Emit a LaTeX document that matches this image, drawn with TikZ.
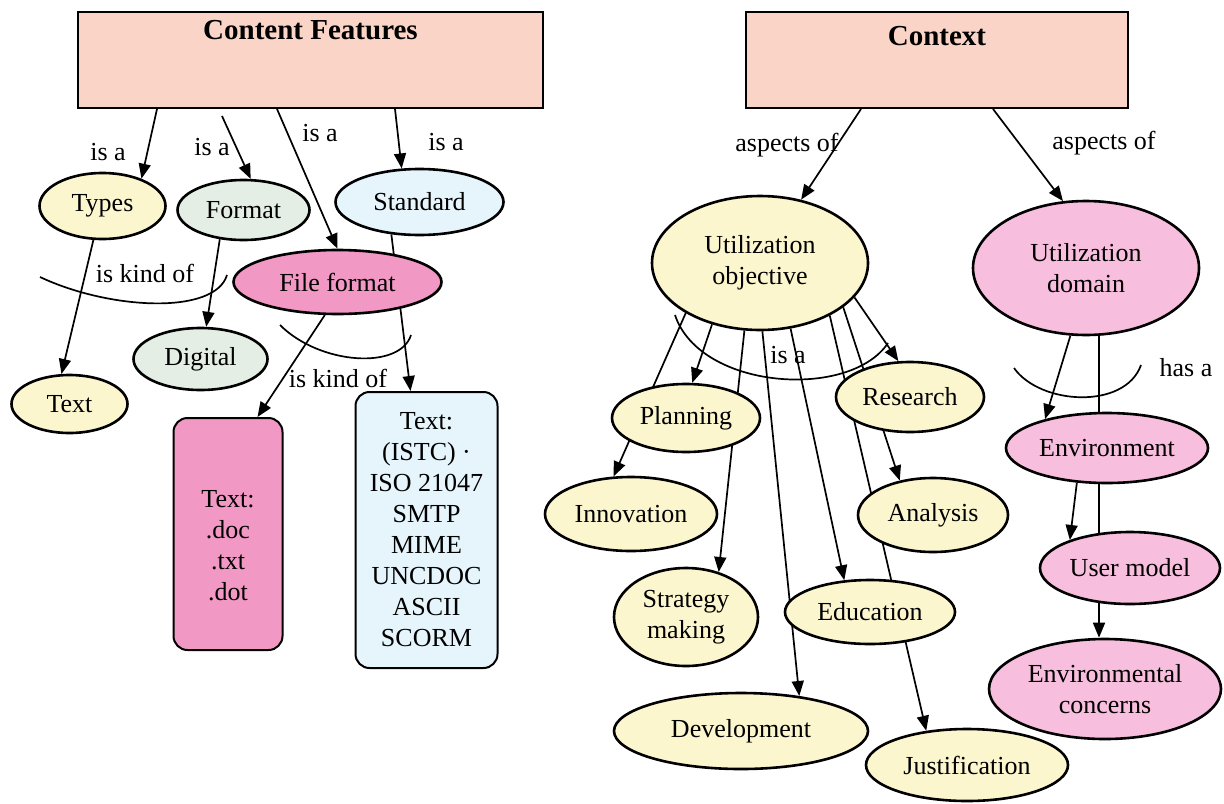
\documentclass[tikz,border=0pt]{standalone}
\usepackage{fontspec}
\setmainfont{Liberation Serif}
\usepackage{tikz}
\usepackage{xcolor}
\usetikzlibrary{positioning}
\usetikzlibrary{shapes.geometric, arrows.meta, backgrounds}
\definecolor{salmon}{RGB}{250,212,198}
\definecolor{cream}{RGB}{252,246,206}
\definecolor{sage}{RGB}{228,238,228}
\definecolor{iceblue}{RGB}{230,244,252}
\definecolor{hotpink}{RGB}{242,152,196}
\definecolor{softpink}{RGB}{248,190,222}

\begin{document}
\begin{tikzpicture}[x=0.5pt, y=-0.5pt, on grid, every node/.style={font=\fontsize{13}{15.5}\selectfont}]
	\tikzstyle{box} = [rectangle, draw, line width=1pt, inner sep=0pt]
	\tikzstyle{title} = [below=2pt, font=\fontsize{14.5}{17}\selectfont\bfseries]
	\tikzstyle{tag} = [rectangle, draw, rounded corners=7pt, line width=1pt, align=center]
	\tikzstyle{oval} = [ellipse, draw, line width=1.3pt, inner sep=0pt, align=center]
	\tikzstyle{edge} = [line width=0.85pt, -{Triangle[length=7.5pt, width=6pt]}]
	\tikzstyle{bow} = [line width=0.85pt]

	\useasboundingbox (0,0) rectangle (1224,803);

	\node (1) [box, fill=salmon, minimum width=232.5pt, minimum height=48pt, label={[title, below=1pt]north:Content Features}] at (310.5,60) {};
	\node (2) [oval, fill=cream, minimum width=63pt, minimum height=33pt, below left=73pt and 104pt of 1] {Types};
	\node (3) [oval, fill=sage, minimum width=66pt, minimum height=30pt, below right=2pt and 70.5pt of 2] {Format};
	\node (4) [oval, fill=iceblue, minimum width=84pt, minimum height=33pt, above right=4pt and 88pt of 3] {Standard};
	\node (5) [oval, fill=hotpink, minimum width=104pt, minimum height=32pt, below left=40pt and 41pt of 4] {File format};
	\node (6) [oval, fill=sage, minimum width=67pt, minimum height=31pt, below left=74.5pt and 21.5pt of 3] {Digital};
	\node (7) [oval, fill=cream, minimum width=58pt, minimum height=29pt, below left=99pt and 16.5pt of 2] {Text};
	\node (8) [tag, fill=hotpink, minimum width=54.5pt, minimum height=116pt, below right=87.5pt and 13.75pt of 6] {\mbox{}\\[4.5pt]Text:\\.doc\\.txt\\.dot};
	\node (9) [tag, fill=iceblue, minimum width=71pt, minimum height=138pt, above right=2pt and 99.25pt of 8] {Text:\\(ISTC) ·\\ISO 21047\\SMTP\\MIME\\UNCDOC\\ASCII\\SCORM};

	\node (10) [box, fill=salmon, minimum width=191pt, minimum height=48pt, label={[title, below=4pt]north:Context}, right=313.25pt of 1] {};
	\node (11) [oval, fill=cream, minimum width=108pt, minimum height=67pt, below left=101.5pt and 88.5pt of 10] {Utilization\\objective};
	\node (12) [oval, fill=softpink, minimum width=113pt, minimum height=67pt, below right=2.5pt and 163pt of 11] {Utilization\\domain};
	\node (13) [oval, fill=cream, minimum width=74pt, minimum height=34pt, below left=77.5pt and 37pt of 11] {Planning};
	\node (14) [oval, fill=cream, minimum width=74pt, minimum height=35pt, below right=67pt and 75pt of 11] {Research};
	\node (15) [oval, fill=cream, minimum width=86pt, minimum height=37pt, below left=48pt and 27.5pt of 13] {Innovation};
	\node (16) [oval, fill=cream, minimum width=72pt, minimum height=49pt, below=99.5pt of 13] {Strategy\\making};
	\node (17) [oval, fill=cream, minimum width=127pt, minimum height=38pt, below right=57pt and 27.5pt of 16] {Development};
	\node (18) [oval, fill=cream, minimum width=85pt, minimum height=32pt, below left=107.5pt and 20pt of 14] {Education};
	\node (19) [oval, fill=cream, minimum width=75pt, minimum height=37pt, below right=59pt and 11.5pt of 14] {Analysis};
	\node (20) [oval, fill=cream, minimum width=101pt, minimum height=36pt, below right=76.5pt and 48.5pt of 18] {Justification};
	\node (21) [oval, fill=softpink, minimum width=101pt, minimum height=35pt, below right=90pt and 10.5pt of 12] {Environment};
	\node (22) [oval, fill=softpink, minimum width=90pt, minimum height=36pt, below right=60pt and 11.5pt of 21] {User model};
	\node (23) [oval, fill=softpink, minimum width=116pt, minimum height=50pt, below left=60.5pt and 12.5pt of 22] {Environmental\\concerns};

	\begin{scope}[on background layer]
		\draw ([xshift=-76.75pt]1.south) edge [edge] (2.35);
		\draw ([xshift=-44.25pt, yshift=-3.5pt]1.south) edge [edge] (3.77);
		\draw ([xshift=-16.75pt]1.south) edge [edge] (5.north);
		\draw ([xshift=42.25pt]1.south) edge [edge] (4.118);
		\draw (2.255) edge [edge] (7.105);
		\draw (3.231) edge [edge] (6.80);
		\draw (5.249) edge [edge] ([xshift=14.75pt]8.north);
		\draw (4.229) edge [edge] ([xshift=-8pt]9.north);

		\draw ([xshift=-38pt]10.south) edge [edge] (11.57);
		\draw ([xshift=28pt]10.south) edge [edge] (12.109);
		\draw (11.232) edge [edge] (13.80);
		\draw (11.214) edge [edge] (15.115);
		\draw (11.257) edge [edge] (16.54);
		\draw (11.272) edge [edge] (17.31);
		\draw (11.295) edge [edge] (18.129);
		\draw (11.323) edge [edge] (20.140);
		\draw (11.332) edge [edge] (19.134);
		\draw (11.340) edge [edge] (14.108);
		\draw (12.257) edge [edge] (21.155);
		\draw (21.229) edge [edge] (22.155);
		\draw ([xshift=6.5pt]12.south) edge [edge] ([xshift=-3pt]23.north);
	\end{scope}

	\draw [bow] (40,277) .. controls (110,310) and (215,315) .. (227,275);
	\draw [bow] (280,325) .. controls (320,365) and (400,370) .. (411,335);
	\draw [bow] (675,315) .. controls (700,390) and (850,400) .. (888,343);
	\draw [bow] (1014,368) .. controls (1040,405) and (1125,410) .. (1141,365);

	\node (l1) at (108,152) {is a};
	\node (l2) at (212,147) {is a};
	\node (l3) at (320,133) {is a};
	\node (l4) at (446,142) {is a};
	\node (l5) at (145,273) {is kind of};
	\node (l6) at (338,378) {is kind of};
	\node (l7) at (787,145) {aspects of};
	\node (l8) at (1104,143) {aspects of};
	\node (l9) at (788,355) {is a};
	\node (l10) at (1186,368) {has a};
\end{tikzpicture}
\end{document}
